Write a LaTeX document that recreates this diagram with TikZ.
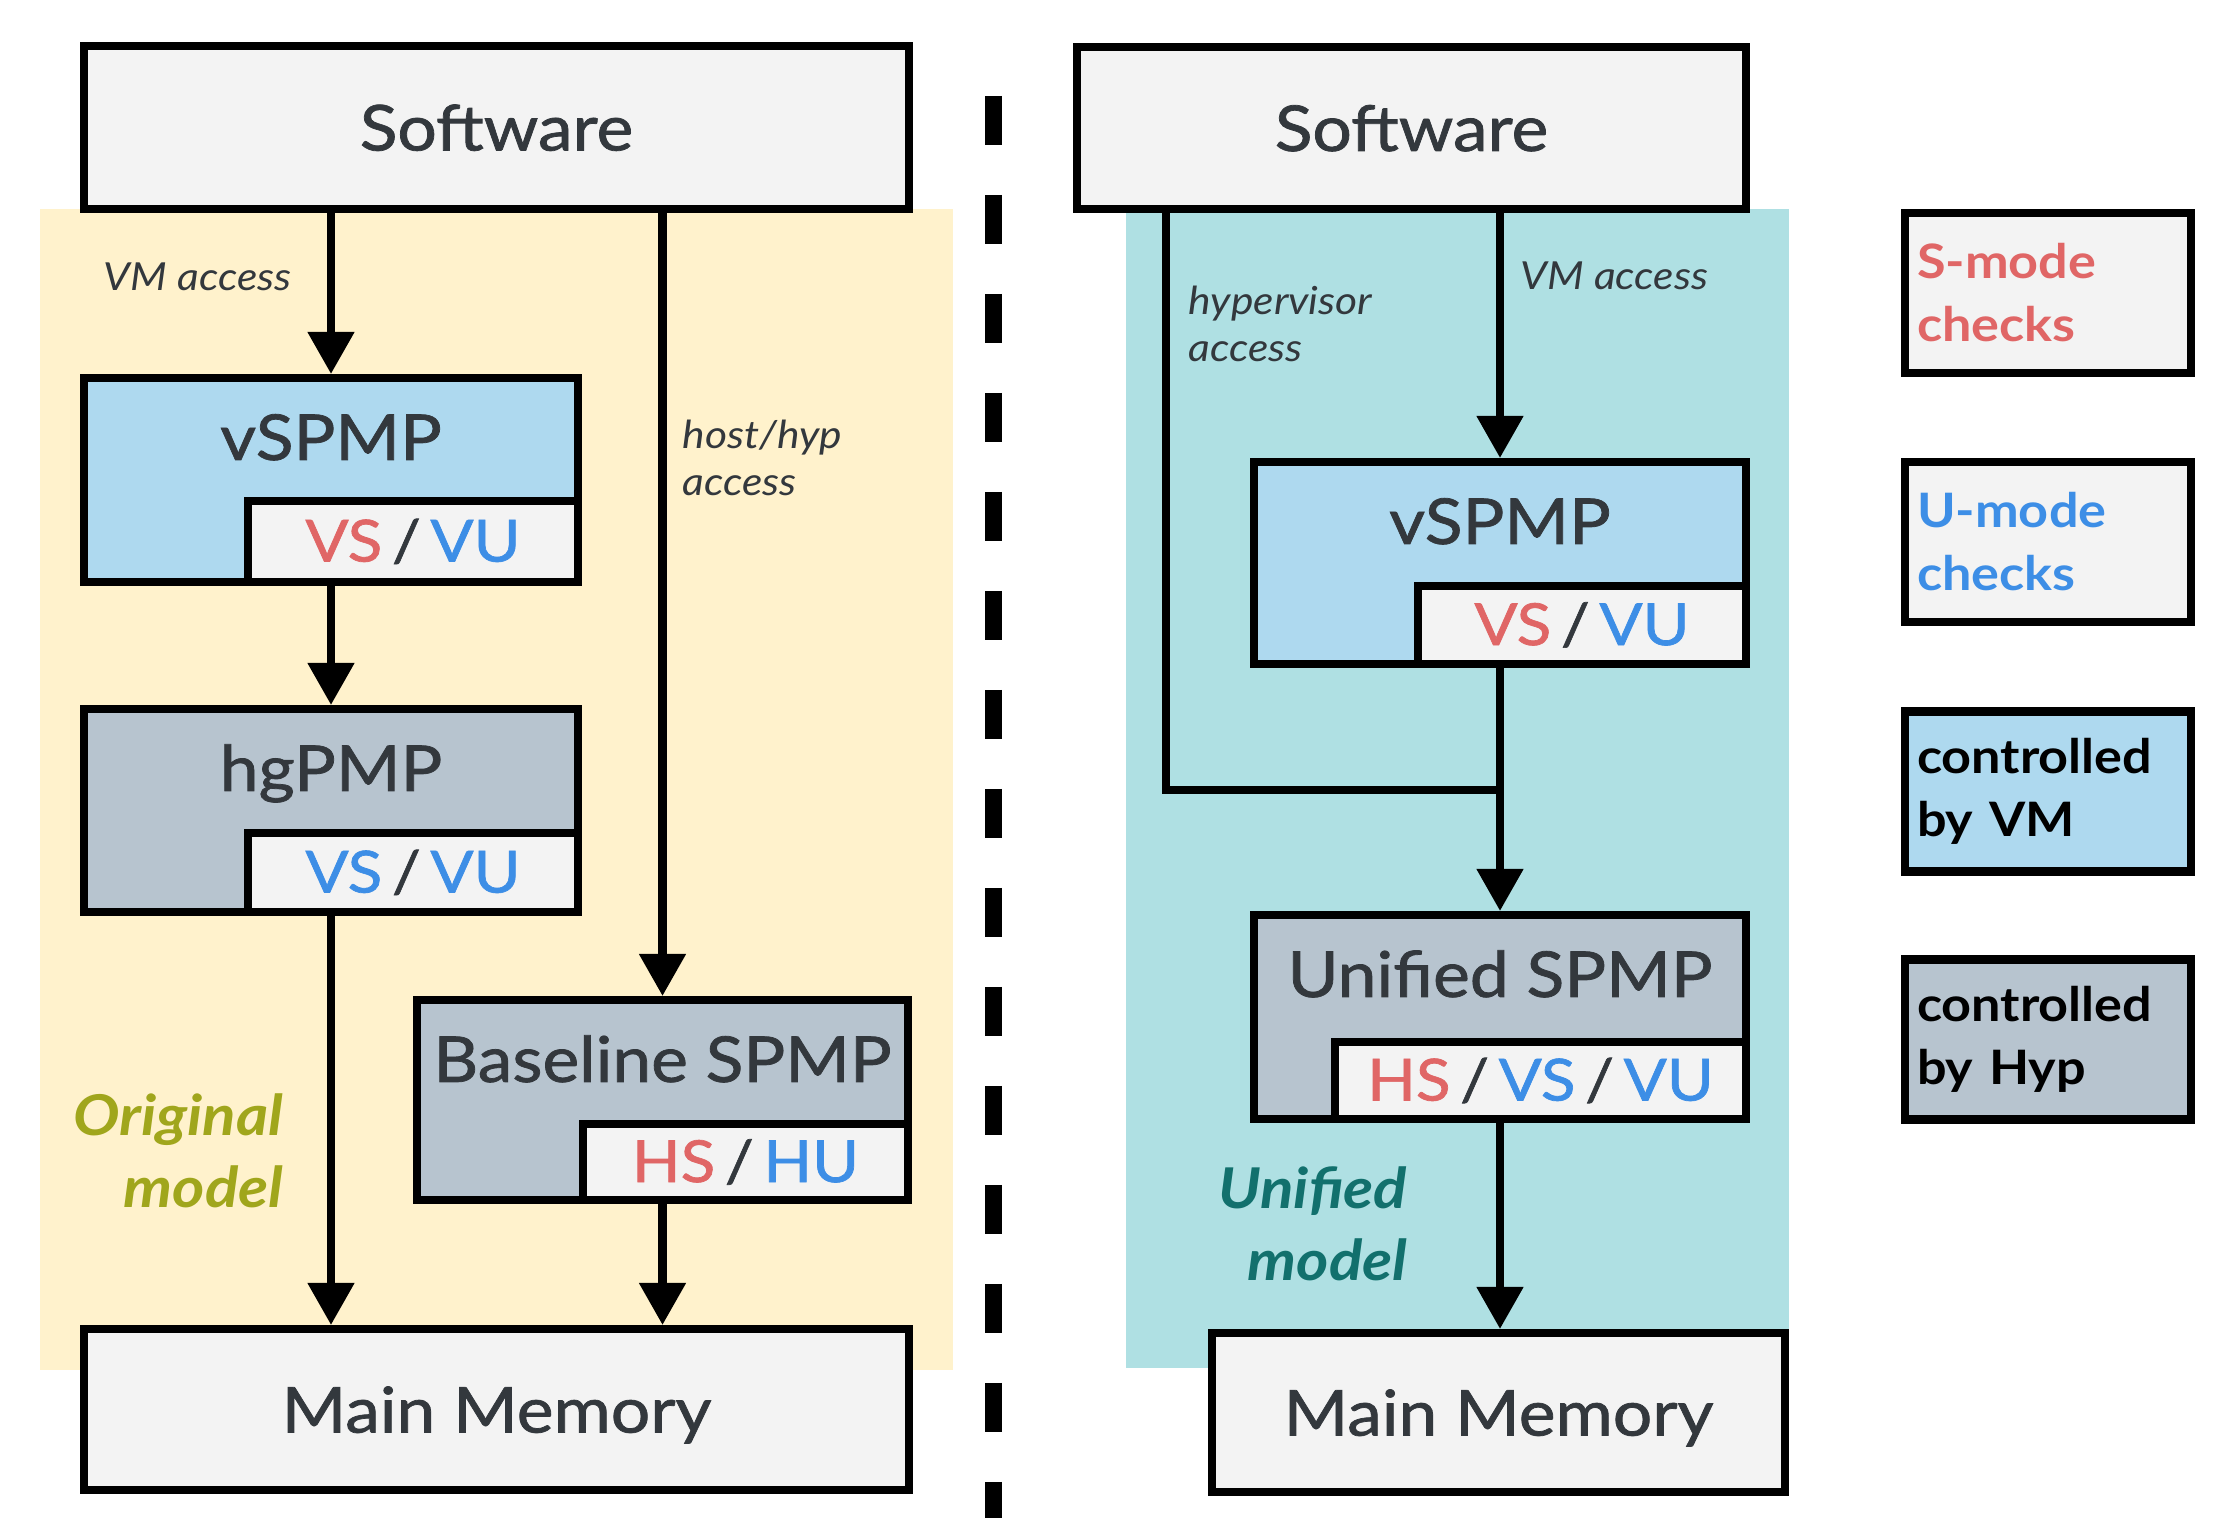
\documentclass[tikz,border=0pt]{standalone}
\usepackage{fontspec}
\setmainfont{Lato}[FakeStretch=1.1]
\newfontfamily\ttlfam{Lato}[FakeStretch=1.1,FakeBold=1.2]
\usetikzlibrary{arrows.meta}
\definecolor{ink}{HTML}{33383D}
\definecolor{boxgray}{HTML}{F3F3F3}
\definecolor{vmblue}{HTML}{AED9EF}
\definecolor{hypgray}{HTML}{B7C4CF}
\definecolor{origbg}{HTML}{FFF2CC}
\definecolor{unibg}{HTML}{AFE0E3}
\definecolor{smode}{HTML}{E06666}
\definecolor{umode}{HTML}{3D8EE6}
\definecolor{olive}{HTML}{A0A61C}
\definecolor{tealtxt}{HTML}{12706D}
\newcommand{\ttlfont}{\ttlfam\fontsize{18}{21}\selectfont}
\newcommand{\chkS}[1]{\textcolor{smode}{#1}}
\newcommand{\chkU}[1]{\textcolor{umode}{#1}}
\newcommand{\sep}{\,/\,}
\tikzset{
  box/.style={draw=black, fill=boxgray, line width=2.3pt, inner sep=0pt,
              align=center, font=\ttlfont, text=ink},
  vmbox/.style={box, fill=vmblue},
  hypbox/.style={box, fill=hypgray},
  tagbox/.style={box, anchor=south east, font=\ttlfam\fontsize{16.5}{20}\selectfont},
  endbox/.style={box, text depth=0pt},
  ttl/.style={font=\ttlfont, text=ink, anchor=base},
  ar/.style={-{Triangle[length=0.42cm,width=0.45cm]}, line width=2.3pt},
  ln/.style={line width=2.3pt},
  lbl/.style={font=\fontsize{11}{13.3}\selectfont\itshape, text=ink, align=left, inner sep=0pt},
  model/.style={font=\fontsize{16}{20.4}\selectfont\bfseries\itshape, align=right, inner sep=0pt},
  legend/.style={box, minimum width=2.86cm, minimum height=1.6cm, text width=2.62cm,
                 align=left, font=\fontsize{13.5}{17.9}\selectfont\bfseries},
  divider/.style={line width=0.17cm, dash pattern=on 0.49cm off 0.5cm}
}
\begin{document}
\begin{tikzpicture}[x=0.1mm,y=-0.1mm]
  \useasboundingbox (0,0) rectangle (2231,1518);
  % backgrounds of the two models
  \fill[origbg] (40,209) rectangle (953,1370);
  \fill[unibg] (1126,209) rectangle (1789,1368);
  \draw[divider] (993,96) -- (993,1518);

  % original model
  \node[endbox, minimum width=8.25cm, minimum height=1.63cm] (sw1) at (496.5,127.5) {Software};
  \node[vmbox, minimum width=4.94cm, minimum height=2.04cm] (vspmp1) at (331,480) {};
  \node[tagbox, minimum width=3.30cm, minimum height=0.81cm] (tag1) at (vspmp1.south east) {\chkS{VS}\sep\chkU{VU}};
  \node[ttl] (t1) at ([yshift=-0.86cm]vspmp1.north) {vSPMP};
  \node[hypbox, minimum width=4.94cm, minimum height=2.03cm] (hgpmp) at (331,810.5) {};
  \node[tagbox, minimum width=3.30cm, minimum height=0.79cm] (tag2) at (hgpmp.south east) {\chkU{VS}\sep\chkU{VU}};
  \node[ttl] (t2) at ([yshift=-0.86cm]hgpmp.north) {hgPMP};
  \node[hypbox, minimum width=4.91cm, minimum height=2.00cm] (base) at (662.5,1100) {};
  \node[tagbox, minimum width=3.25cm, minimum height=0.76cm] (tag3) at (base.south east) {\chkS{HS}\sep\chkU{HU}};
  \node[ttl] (t3) at ([yshift=-0.86cm]base.north) {Baseline SPMP};
  \node[endbox, minimum width=8.25cm, minimum height=1.61cm] (mem1) at (496.5,1409.5) {Main Memory};

  \draw[ar] (vspmp1.north |- sw1.south) -- (vspmp1.north);
  \draw[ar] (vspmp1.south) -- (hgpmp.north);
  \draw[ar] (hgpmp.south) -- (hgpmp.south |- mem1.north);
  \draw[ar] (base.north |- sw1.south) -- (base.north);
  \draw[ar] (base.south) -- (base.south |- mem1.north);

  \node[lbl, anchor=east] (vma1) at (292,277) {VM access};
  \node[lbl, anchor=west] (hha) at (682,458) {host/hyp\\access};
  \node[model, text=olive, anchor=east] (orig) at (284,1151) {Original\\model};

  % unified model
  \node[endbox, minimum width=6.69cm, minimum height=1.62cm] (sw2) at (1411.5,128) {Software};
  \node[vmbox, minimum width=4.92cm, minimum height=2.02cm] (vspmp2) at (1500,563) {};
  \node[tagbox, minimum width=3.28cm, minimum height=0.78cm] (tag4) at (vspmp2.south east) {\chkS{VS}\sep\chkU{VU}};
  \node[ttl] (t4) at ([yshift=-0.86cm]vspmp2.north) {vSPMP};
  \node[hypbox, minimum width=4.92cm, minimum height=2.04cm] (uspmp) at (1500,1017) {};
  \node[tagbox, minimum width=4.11cm, minimum height=0.77cm] (tag5) at (uspmp.south east) {\chkS{HS}\sep\chkU{VS}\sep\chkU{VU}};
  \node[ttl] (t5) at ([yshift=-0.86cm]uspmp.north) {Unified SPMP};
  \node[endbox, minimum width=5.73cm, minimum height=1.59cm] (mem2) at (1498.5,1412.5) {Main Memory};

  \coordinate (hyp) at (1166,209);
  \coordinate (join) at (1500,790);
  \draw[ar] (vspmp2.north |- sw2.south) -- (vspmp2.north);
  \draw[ar] (vspmp2.south) -- (uspmp.north);
  \draw[ln] (hyp) |- (join);
  \draw[ar] (uspmp.south) -- (uspmp.south |- mem2.north);

  \node[lbl, anchor=west] (hva) at (1188,324) {hypervisor\\access};
  \node[lbl, anchor=west] (vma2) at (1520,276) {VM access};
  \node[model, text=tealtxt, anchor=east] (uni) at (1408,1224) {Unified\\model};

  % legend
  \node[legend, text=smode] (lgs) at (2048,293) {S-mode\\checks};
  \node[legend, text=umode] (lgu) at (2048,542) {U-mode\\checks};
  \node[legend, fill=vmblue, text=black] (lgv) at (2048,791.5) {controlled\\by VM};
  \node[legend, fill=hypgray, text=black] (lgh) at (2048,1039.5) {controlled\\by Hyp};
\end{tikzpicture}
\end{document}
